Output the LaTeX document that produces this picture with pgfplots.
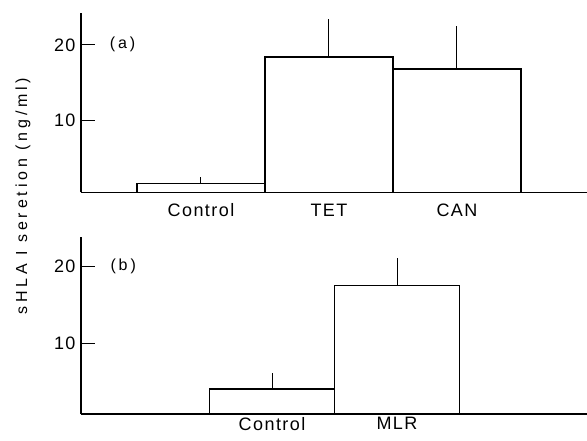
\documentclass[border=0pt]{standalone}
\usepackage{fontspec}
\setmainfont{Liberation Sans}[LetterSpace=8]
\newfontfamily\labfont{Liberation Sans}[LetterSpace=24]
\newfontfamily\panfont{Liberation Sans}[LetterSpace=18]
\usepackage{pgfplots}
\pgfplotsset{compat=1.18}
\pgfplotsset{
  mystyle/.style={
    scale only axis, width=506pt,
    axis x line*=bottom, axis y line*=left,
    axis line style={line width=1.5pt,-},
    ytick={10,20},
    /pgf/number format/assume math mode=true,
    tick label style={font=\fontsize{18}{21}\selectfont},
    yticklabel style={xshift=-2pt},
    ytick align=inside,
    y tick style={line width=1.3pt,black},
    major tick length=14pt,
    xtick=data, x tick style={draw=none},
    xticklabel style={yshift=6pt},
    ybar, bar width=1,
  },
  mybar/.style={fill=white, draw=black, line width=1.3pt,
    error bars/.cd, y dir=plus, y explicit, error mark=none,
    error bar style={line width=1pt}},
}
\begin{document}
\begin{tikzpicture}
\path[use as bounding box] (0pt,0pt) rectangle (587pt,440pt);
\begin{axis}[mystyle, at={(81pt,247.7pt)}, anchor=south west, height=179.3pt,
  xmin=-0.9375, xmax=3.016, ymin=0.54, ymax=24.2,
  xticklabels={Control,TET,CAN}]
\addplot[mybar] coordinates {(0,1.74) +- (0,0.86) (1,18.4) +- (0,5.03) (2,16.83) +- (0,5.72)};
\node[anchor=west, font=\panfont\fontsize{16}{19}\selectfont] at (axis cs:-0.74,20) {(a)};
\end{axis}
\begin{axis}[mystyle, at={(81pt,26pt)}, anchor=south west, height=176.7pt,
  xmin=-1.528, xmax=2.52, ymin=0.78, ymax=23.85,
  xticklabels={Control,MLR}, xticklabel style={yshift=8pt}]
\addplot[mybar] coordinates {(0,4.05) +- (0,2.12) (1,17.53) +- (0,3.57)};
\node[anchor=west, font=\panfont\fontsize{16}{19}\selectfont] at (axis cs:-1.32,20) {(b)};
\end{axis}
\node[rotate=90, font=\labfont\fontsize{16}{19}\selectfont] at (23pt,244pt) {sHLA I seretion (ng/ml)};
\end{tikzpicture}
\end{document}
